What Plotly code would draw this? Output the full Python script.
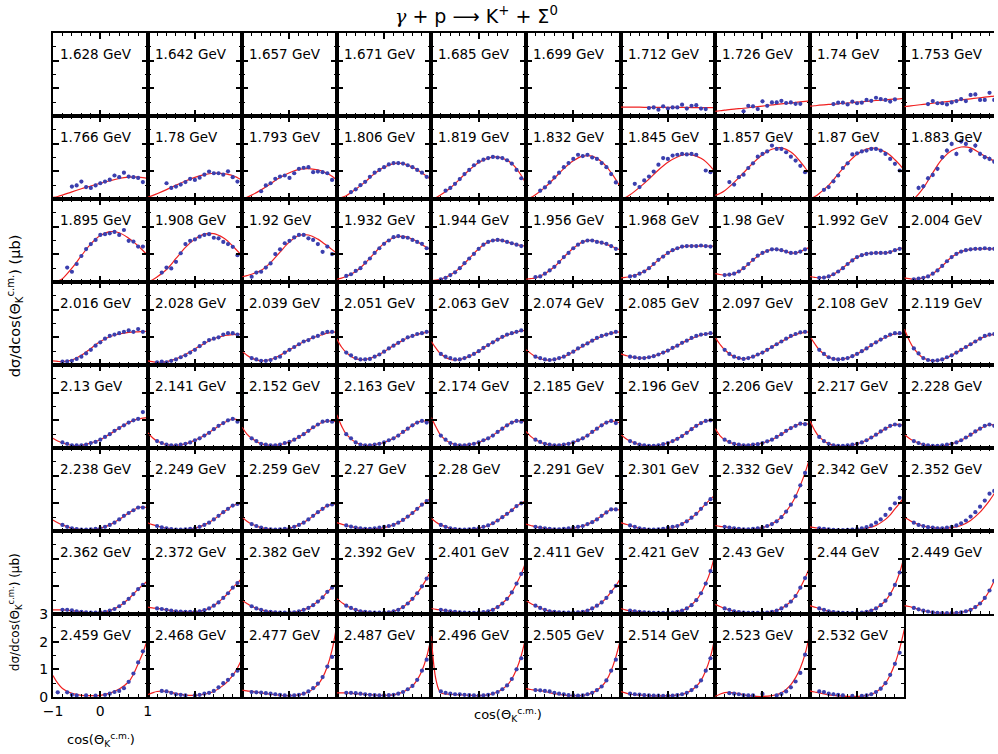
import plotly.graph_objects as go

N = None

# Angular bins of the measured points and the knots of the model curve
COS_POINTS = [-0.9, -0.8, -0.7, -0.6, -0.5, -0.4, -0.3, -0.2, -0.1, 0.0,
              0.1, 0.2, 0.3, 0.4, 0.5, 0.6, 0.7, 0.8, 0.9]
COS_CURVE = [-1.0, -0.9, -0.8, -0.6, -0.4, -0.2, 0.0, 0.2, 0.4, 0.6, 0.7, 0.8, 0.9, 1.0]

# ---- row 1 ----
ENERGY_ROW1 = ["1.628", "1.642", "1.657", "1.671", "1.685", "1.699", "1.712", "1.726", "1.74", "1.753"]
POINTS_ROW1 = [
    None, None, None, None, None, None,
    [N, N, N, N, N, 0.29, 0.31, 0.23, 0.35, 0.27, 0.31, 0.31, 0.41, 0.27, 0.37, 0.39, 0.27, 0.25, N],
    [N, N, N, N, N, 0.17, 0.37, 0.35, 0.25, 0.53, 0.37, 0.49, 0.49, 0.55, 0.47, 0.49, 0.44, 0.44, N],
    [N, N, N, N, 0.43, 0.48, 0.48, 0.42, 0.52, 0.46, 0.48, 0.58, 0.55, 0.66, 0.61, 0.58, 0.52, 0.60, N],
    [N, N, N, N, 0.43, 0.54, 0.46, 0.46, 0.42, 0.49, 0.54, 0.61, 0.54, 0.76, 0.78, 0.58, 0.58, 0.84, 0.58],
]
CURVE_ROW1 = [
    None, None, None, None, None, None,
    [0.32, 0.32, 0.32, 0.32, 0.31, 0.31, 0.31, 0.31, 0.31, 0.30, 0.30, 0.30, 0.30, 0.30],
    [0.17, 0.19, 0.21, 0.25, 0.28, 0.32, 0.36, 0.40, 0.44, 0.47, 0.49, 0.51, 0.53, 0.55],
    [0.36, 0.37, 0.39, 0.42, 0.44, 0.47, 0.50, 0.53, 0.56, 0.58, 0.60, 0.61, 0.62, 0.64],
    [0.34, 0.36, 0.38, 0.42, 0.46, 0.50, 0.54, 0.58, 0.62, 0.66, 0.68, 0.70, 0.72, 0.73],
]
ERR_ROW1 = [0, 0, 0, 0, 0, 0, 0.05, 0.06, 0.05, 0.06]

# ---- row 2 ----
ENERGY_ROW2 = ["1.766", "1.78", "1.793", "1.806", "1.819", "1.832", "1.845", "1.857", "1.87", "1.883"]
POINTS_ROW2 = [
    [N, N, N, 0.45, 0.49, 0.63, 0.43, 0.40, 0.49, 0.57, 0.63, 0.70, 0.85, 0.79, 0.95, 0.81, 0.79, 0.76, 0.61],
    [N, N, N, 0.57, 0.40, 0.45, 0.52, 0.61, 0.73, 0.69, 0.77, 0.88, 0.99, 0.93, 0.93, 0.88, 1.00, 0.79, 0.63],
    [N, N, N, 0.28, 0.49, 0.57, 0.73, 0.81, 0.85, 0.76, 0.93, 1.09, 1.13, 1.15, 0.97, 0.99, 0.97, 0.93, 0.69],
    [N, N, 0.25, 0.35, 0.50, 0.62, 0.80, 0.95, 1.05, 1.15, 1.25, 1.30, 1.30, 1.28, 1.22, 1.15, 1.05, 0.95, 0.80],
    [N, N, 0.30, 0.40, 0.55, 0.72, 0.90, 1.05, 1.22, 1.35, 1.42, 1.48, 1.52, 1.50, 1.48, 1.40, 1.28, 1.05, 0.75],
    [N, N, 0.30, 0.42, 0.60, 0.78, 0.95, 1.15, 1.30, 1.45, 1.60, 1.55, 1.60, 1.50, 1.45, 1.30, 1.15, 0.90, 0.60],
    [N, N, 0.55, 0.43, 0.67, 0.81, 0.99, 1.24, 1.48, 1.45, 1.57, 1.60, 1.63, 1.61, 1.63, 1.60, N, 1.03, 0.97],
    [N, N, 0.61, 0.52, 0.79, 0.88, 1.12, 1.29, 1.53, 1.63, 1.72, 1.93, 1.81, 1.81, 1.69, 1.53, 1.39, 1.20, 0.97],
    [N, N, 0.33, 0.43, 0.64, 0.85, 1.12, 1.29, 1.61, 1.65, 1.72, 1.75, 1.81, 1.81, 1.75, 1.63, 1.45, 1.27, 1.03],
    [N, N, 0.40, 0.46, 0.75, 0.87, 1.09, 1.51, 1.75, 1.99, 1.63, 2.08, 1.99, 1.75, 1.93, 1.63, 1.51, 1.45, 1.35],
]
CURVE_ROW2 = [
    [0.06, 0.09, 0.14, 0.26, 0.37, 0.47, 0.57, 0.66, 0.74, 0.79, 0.80, 0.79, 0.77, 0.74],
    [0.06, 0.12, 0.19, 0.34, 0.50, 0.65, 0.78, 0.88, 0.93, 0.92, 0.89, 0.85, 0.77, 0.68],
    [0.00, 0.06, 0.14, 0.33, 0.55, 0.78, 0.95, 1.07, 1.10, 1.05, 1.00, 0.92, 0.82, 0.68],
    [0.00, 0.05, 0.12, 0.35, 0.62, 0.92, 1.15, 1.28, 1.28, 1.15, 1.06, 0.95, 0.82, 0.68],
    [0.00, 0.05, 0.15, 0.40, 0.72, 1.05, 1.32, 1.48, 1.52, 1.40, 1.28, 1.10, 0.85, 0.55],
    [0.00, 0.05, 0.15, 0.42, 0.75, 1.10, 1.38, 1.55, 1.55, 1.35, 1.18, 0.95, 0.70, 0.40],
    [0.00, 0.05, 0.15, 0.42, 0.72, 1.05, 1.33, 1.52, 1.62, 1.55, 1.47, 1.35, 1.18, 0.97],
    [0.13, 0.20, 0.30, 0.60, 0.95, 1.30, 1.60, 1.80, 1.85, 1.70, 1.55, 1.35, 1.13, 0.90],
    [0.00, 0.08, 0.20, 0.50, 0.90, 1.30, 1.62, 1.80, 1.83, 1.70, 1.58, 1.42, 1.24, 1.03],
    [0.00, 0.00, 0.02, 0.40, 0.95, 1.45, 1.75, 1.88, 1.85, 1.65, 1.55, 1.45, 1.38, 1.33],
]
ERR_ROW2 = [0.06, 0.05, 0.05, 0.05, 0.05, 0.06, 0.05, 0.05, 0.05, 0.08]

# ---- row 3 ----
ENERGY_ROW3 = ["1.895", "1.908", "1.92", "1.932", "1.944", "1.956", "1.968", "1.98", "1.992", "2.004"]
POINTS_ROW3 = [
    [N, N, 0.52, 0.37, 0.65, 0.94, 1.19, 1.37, 1.52, 1.70, 1.73, 1.76, 1.81, 1.70, 1.88, 1.49, 1.46, 1.28, 1.28],
    [N, N, 0.34, 0.52, 0.49, 0.73, 1.04, 1.37, 1.49, 1.54, 1.64, 1.70, 1.73, 1.60, 1.58, 1.45, 1.37, 1.27, 0.97],
    [N, 0.19, 0.34, 0.37, 0.52, 0.67, 1.01, 1.18, 1.40, 1.49, 1.61, 1.70, 1.70, 1.58, 1.52, 1.37, 1.09, 1.28, 1.01],
    [N, 0.22, 0.28, 0.40, 0.50, 0.70, 0.85, 1.05, 1.22, 1.38, 1.50, 1.62, 1.66, 1.62, 1.60, 1.52, 1.45, 1.38, 1.22],
    [N, 0.10, 0.15, 0.25, 0.35, 0.50, 0.68, 0.85, 1.02, 1.20, 1.35, 1.45, 1.50, 1.52, 1.50, 1.45, 1.40, 1.35, 1.30],
    [N, 0.18, 0.20, 0.30, 0.42, 0.55, 0.72, 0.90, 1.05, 1.22, 1.35, 1.45, 1.50, 1.50, 1.45, 1.42, 1.38, 1.30, 1.20],
    [N, 0.20, 0.22, 0.30, 0.38, 0.50, 0.65, 0.80, 0.92, 1.05, 1.15, 1.22, 1.28, 1.30, 1.30, 1.30, 1.32, 1.30, 1.28],
    [N, 0.25, 0.27, 0.30, 0.38, 0.50, 0.65, 0.80, 0.95, 1.05, 1.12, 1.18, 1.18, 1.15, 1.10, 1.05, 1.05, 1.10, 1.18],
    [N, 0.15, 0.16, 0.20, 0.28, 0.38, 0.50, 0.65, 0.78, 0.90, 0.97, 1.02, 1.04, 1.05, 1.05, 1.05, 1.08, 1.15, 1.20],
    [N, 0.10, 0.12, 0.15, 0.20, 0.30, 0.42, 0.58, 0.75, 0.90, 1.02, 1.10, 1.15, 1.18, 1.20, 1.20, 1.22, 1.20, 1.20],
]
CURVE_ROW3 = [
    [0.00, 0.03, 0.12, 0.50, 0.95, 1.38, 1.68, 1.82, 1.78, 1.58, 1.45, 1.30, 1.14, 0.97],
    [0.00, 0.07, 0.18, 0.45, 0.85, 1.25, 1.55, 1.73, 1.75, 1.60, 1.47, 1.30, 1.12, 0.94],
    [0.19, 0.23, 0.28, 0.42, 0.70, 1.08, 1.45, 1.68, 1.70, 1.55, 1.43, 1.30, 1.17, 1.04],
    [0.10, 0.14, 0.20, 0.38, 0.68, 1.05, 1.40, 1.60, 1.65, 1.55, 1.46, 1.35, 1.25, 1.15],
    [0.05, 0.07, 0.10, 0.25, 0.50, 0.85, 1.20, 1.45, 1.52, 1.45, 1.40, 1.35, 1.32, 1.30],
    [0.10, 0.12, 0.15, 0.30, 0.55, 0.90, 1.22, 1.45, 1.50, 1.42, 1.36, 1.30, 1.22, 1.15],
    [0.15, 0.17, 0.20, 0.30, 0.50, 0.80, 1.05, 1.22, 1.30, 1.30, 1.30, 1.30, 1.30, 1.30],
    [0.30, 0.27, 0.25, 0.30, 0.50, 0.80, 1.05, 1.18, 1.15, 1.05, 1.05, 1.10, 1.18, 1.25],
    [0.20, 0.17, 0.15, 0.20, 0.38, 0.65, 0.90, 1.02, 1.05, 1.05, 1.08, 1.15, 1.20, 1.25],
    [0.15, 0.12, 0.10, 0.15, 0.30, 0.58, 0.90, 1.10, 1.18, 1.20, 1.20, 1.20, 1.20, 1.20],
]
ERR_ROW3 = [0.05, 0.05, 0.05, 0.04, 0.04, 0.04, 0.04, 0.04, 0.04, 0.04]

# ---- row 4 ----
ENERGY_ROW4 = ["2.016", "2.028", "2.039", "2.051", "2.063", "2.074", "2.085", "2.097", "2.108", "2.119"]
POINTS_ROW4 = [
    [N, 0.12, 0.13, 0.15, 0.22, 0.30, 0.42, 0.55, 0.70, 0.82, 0.95, 1.05, 1.10, 1.15, 1.20, 1.25, 1.20, 1.30, 1.20],
    [N, 0.10, 0.12, 0.10, 0.15, 0.20, 0.28, 0.35, 0.45, 0.55, 0.68, 0.80, 0.90, 0.95, 1.00, 1.10, 1.15, 1.15, 1.10],
    [N, 0.25, 0.20, 0.15, 0.15, 0.18, 0.25, 0.30, 0.45, 0.55, 0.65, 0.75, 0.85, 0.90, 1.00, 1.05, 1.15, 1.20, 1.20],
    [N, 0.45, 0.35, 0.25, 0.20, 0.20, 0.22, 0.30, 0.38, 0.48, 0.60, 0.70, 0.80, 0.90, 1.00, 1.05, 1.12, 1.15, 1.20],
    [N, 0.40, 0.30, 0.25, 0.20, 0.20, 0.25, 0.32, 0.40, 0.50, 0.62, 0.72, 0.82, 0.92, 1.02, 1.10, 1.15, 1.20, 1.25],
    [N, 0.30, 0.25, 0.20, 0.18, 0.20, 0.25, 0.30, 0.40, 0.48, 0.60, 0.70, 0.78, 0.88, 0.98, 1.05, 1.10, 1.15, 1.20],
    [N, 0.30, 0.28, 0.25, 0.25, 0.28, 0.32, 0.38, 0.45, 0.52, 0.62, 0.70, 0.80, 0.88, 0.98, 1.05, 1.10, 1.12, 1.15],
    [N, 0.55, 0.40, 0.30, 0.25, 0.22, 0.25, 0.30, 0.38, 0.45, 0.55, 0.65, 0.75, 0.85, 0.95, 1.05, 1.12, 1.18, 1.20],
    [N, 0.55, 0.40, 0.28, 0.22, 0.20, 0.22, 0.25, 0.32, 0.40, 0.50, 0.60, 0.72, 0.82, 0.92, 1.02, 1.10, 1.15, 1.15],
    [N, 0.60, 0.42, 0.25, 0.18, 0.15, 0.17, 0.20, 0.28, 0.35, 0.45, 0.55, 0.65, 0.75, 0.85, 0.95, 1.05, 1.10, 1.12],
]
CURVE_ROW4 = [
    [0.15, 0.13, 0.12, 0.18, 0.35, 0.60, 0.85, 1.02, 1.12, 1.18, 1.19, 1.20, 1.21, 1.22],
    [0.15, 0.12, 0.10, 0.12, 0.22, 0.38, 0.58, 0.78, 0.95, 1.05, 1.08, 1.10, 1.11, 1.12],
    [0.50, 0.35, 0.25, 0.15, 0.20, 0.35, 0.55, 0.75, 0.92, 1.05, 1.10, 1.15, 1.18, 1.20],
    [0.95, 0.65, 0.45, 0.22, 0.20, 0.30, 0.48, 0.70, 0.90, 1.05, 1.10, 1.15, 1.18, 1.20],
    [0.85, 0.60, 0.40, 0.20, 0.20, 0.32, 0.50, 0.72, 0.92, 1.08, 1.14, 1.20, 1.23, 1.25],
    [0.55, 0.42, 0.30, 0.18, 0.20, 0.30, 0.48, 0.68, 0.88, 1.03, 1.10, 1.15, 1.18, 1.20],
    [0.40, 0.35, 0.30, 0.25, 0.28, 0.38, 0.52, 0.70, 0.88, 1.02, 1.08, 1.12, 1.14, 1.15],
    [1.00, 0.75, 0.55, 0.30, 0.22, 0.30, 0.45, 0.65, 0.85, 1.02, 1.10, 1.15, 1.18, 1.20],
    [1.05, 0.78, 0.55, 0.28, 0.20, 0.25, 0.40, 0.60, 0.82, 1.00, 1.07, 1.12, 1.14, 1.15],
    [1.30, 0.90, 0.60, 0.25, 0.15, 0.20, 0.35, 0.55, 0.75, 0.95, 1.02, 1.08, 1.10, 1.12],
]
ERR_ROW4 = [0.04, 0.04, 0.04, 0.04, 0.04, 0.04, 0.04, 0.04, 0.04, 0.04]

# ---- row 5 ----
ENERGY_ROW5 = ["2.13", "2.141", "2.152", "2.163", "2.174", "2.185", "2.196", "2.206", "2.217", "2.228"]
POINTS_ROW5 = [
    [N, 0.20, 0.15, 0.10, 0.10, 0.10, 0.12, 0.18, 0.22, 0.30, 0.40, 0.50, 0.62, 0.72, 0.82, 0.92, 1.00, 1.05, 1.30],
    [N, 0.25, 0.18, 0.12, 0.10, 0.10, 0.12, 0.15, 0.20, 0.28, 0.35, 0.45, 0.55, 0.68, 0.80, 0.90, 1.00, 1.05, 0.95],
    [N, 0.35, 0.25, 0.15, 0.12, 0.10, 0.10, 0.12, 0.18, 0.22, 0.30, 0.40, 0.50, 0.62, 0.75, 0.85, 0.95, 0.98, 0.95],
    [N, 0.50, 0.35, 0.20, 0.12, 0.10, 0.10, 0.12, 0.15, 0.20, 0.28, 0.35, 0.45, 0.58, 0.70, 0.82, 0.92, 0.98, 0.92],
    [N, 0.45, 0.30, 0.18, 0.12, 0.10, 0.10, 0.12, 0.15, 0.20, 0.28, 0.35, 0.45, 0.58, 0.70, 0.82, 0.92, 0.98, 0.95],
    [N, 0.30, 0.22, 0.15, 0.12, 0.10, 0.10, 0.12, 0.15, 0.20, 0.28, 0.35, 0.45, 0.58, 0.70, 0.82, 0.92, 0.98, 0.90],
    [N, 0.25, 0.18, 0.12, 0.10, 0.08, 0.08, 0.10, 0.14, 0.18, 0.25, 0.33, 0.43, 0.55, 0.68, 0.80, 0.90, 0.98, 1.00],
    [N, 0.30, 0.22, 0.15, 0.12, 0.10, 0.10, 0.12, 0.14, 0.18, 0.24, 0.30, 0.40, 0.50, 0.62, 0.72, 0.80, 0.88, 0.86],
    [N, 0.40, 0.25, 0.15, 0.10, 0.08, 0.08, 0.10, 0.12, 0.15, 0.20, 0.28, 0.38, 0.48, 0.60, 0.70, 0.80, 0.85, 0.82],
    [N, 0.25, 0.18, 0.12, 0.10, 0.08, 0.08, 0.10, 0.12, 0.15, 0.20, 0.28, 0.38, 0.48, 0.60, 0.70, 0.80, 0.85, 0.80],
]
CURVE_ROW5 = [
    [0.35, 0.25, 0.18, 0.10, 0.10, 0.18, 0.30, 0.50, 0.72, 0.92, 1.00, 1.05, 1.08, 1.10],
    [0.55, 0.38, 0.25, 0.12, 0.10, 0.15, 0.28, 0.45, 0.68, 0.90, 0.98, 1.05, 1.02, 0.95],
    [0.75, 0.50, 0.35, 0.15, 0.10, 0.12, 0.22, 0.40, 0.62, 0.85, 0.93, 0.98, 0.97, 0.95],
    [1.20, 0.80, 0.50, 0.20, 0.10, 0.12, 0.20, 0.35, 0.58, 0.82, 0.92, 0.98, 0.96, 0.92],
    [1.10, 0.75, 0.45, 0.18, 0.10, 0.12, 0.20, 0.35, 0.58, 0.82, 0.92, 0.98, 0.97, 0.95],
    [0.60, 0.42, 0.30, 0.15, 0.10, 0.12, 0.20, 0.35, 0.58, 0.82, 0.92, 0.98, 0.95, 0.90],
    [0.50, 0.35, 0.25, 0.12, 0.08, 0.10, 0.18, 0.33, 0.55, 0.80, 0.90, 0.98, 1.00, 0.98],
    [0.70, 0.45, 0.30, 0.15, 0.10, 0.12, 0.18, 0.30, 0.50, 0.72, 0.80, 0.88, 0.88, 0.85],
    [1.00, 0.65, 0.40, 0.15, 0.08, 0.08, 0.15, 0.28, 0.48, 0.70, 0.78, 0.85, 0.85, 0.82],
    [0.50, 0.35, 0.25, 0.12, 0.08, 0.08, 0.15, 0.28, 0.48, 0.70, 0.78, 0.85, 0.83, 0.80],
]
ERR_ROW5 = [0.04, 0.04, 0.04, 0.04, 0.04, 0.04, 0.04, 0.04, 0.04, 0.04]

# ---- row 6 ----
ENERGY_ROW6 = ["2.238", "2.249", "2.259", "2.27", "2.28", "2.291", "2.301", "2.332", "2.342", "2.352"]
POINTS_ROW6 = [
    [N, 0.22, 0.15, 0.10, 0.07, 0.05, 0.05, 0.06, 0.08, 0.10, 0.15, 0.22, 0.30, 0.42, 0.55, 0.65, 0.75, 0.85, 0.85],
    [N, 0.18, 0.13, 0.10, 0.07, 0.05, 0.05, 0.06, 0.08, 0.10, 0.15, 0.22, 0.30, 0.42, 0.55, 0.68, 0.80, 0.92, 0.98],
    [N, 0.25, 0.18, 0.12, 0.08, 0.06, 0.05, 0.06, 0.08, 0.10, 0.15, 0.22, 0.30, 0.42, 0.55, 0.68, 0.80, 0.92, 0.96],
    [N, 0.20, 0.16, 0.12, 0.10, 0.08, 0.08, 0.10, 0.12, 0.15, 0.18, 0.22, 0.30, 0.40, 0.52, 0.65, 0.80, 0.95, 1.08],
    [N, 0.22, 0.15, 0.10, 0.07, 0.05, 0.05, 0.06, 0.08, 0.10, 0.15, 0.20, 0.28, 0.38, 0.50, 0.62, 0.75, 0.90, 1.00],
    [N, 0.15, 0.12, 0.10, 0.08, 0.06, 0.06, 0.08, 0.10, 0.12, 0.15, 0.18, 0.25, 0.32, 0.42, 0.55, 0.67, 0.78, 0.78],
    [N, 0.20, 0.15, 0.10, 0.07, 0.05, 0.05, 0.06, 0.08, 0.12, 0.15, 0.18, 0.25, 0.35, 0.48, 0.62, 0.80, 0.98, 1.15],
    [N, 0.15, 0.12, 0.10, 0.08, 0.06, 0.06, 0.08, 0.10, 0.12, 0.18, 0.25, 0.35, 0.50, 0.70, 0.95, 1.25, 1.65, 2.10],
    [N, 0.10, 0.08, 0.06, 0.04, 0.03, 0.03, 0.04, 0.05, 0.07, 0.10, 0.14, 0.20, 0.30, 0.42, 0.58, 0.80, 1.00, 1.20],
    [N, 0.30, 0.22, 0.18, 0.14, 0.12, 0.10, 0.10, 0.12, 0.15, 0.20, 0.28, 0.38, 0.52, 0.68, 0.88, 1.10, 1.35, 1.45],
]
CURVE_ROW6 = [
    [0.40, 0.30, 0.22, 0.10, 0.05, 0.05, 0.10, 0.22, 0.42, 0.65, 0.75, 0.85, 0.86, 0.85],
    [0.30, 0.23, 0.18, 0.10, 0.05, 0.05, 0.10, 0.22, 0.42, 0.68, 0.80, 0.92, 0.97, 1.00],
    [0.50, 0.35, 0.25, 0.12, 0.06, 0.05, 0.10, 0.22, 0.42, 0.68, 0.80, 0.92, 0.96, 0.98],
    [0.30, 0.25, 0.20, 0.12, 0.08, 0.08, 0.12, 0.22, 0.40, 0.65, 0.80, 0.95, 1.08, 1.20],
    [0.45, 0.32, 0.22, 0.10, 0.05, 0.05, 0.10, 0.20, 0.38, 0.62, 0.75, 0.90, 1.00, 1.10],
    [0.25, 0.20, 0.15, 0.10, 0.06, 0.06, 0.10, 0.18, 0.32, 0.55, 0.67, 0.78, 0.78, 0.75],
    [0.30, 0.25, 0.20, 0.10, 0.05, 0.05, 0.08, 0.18, 0.35, 0.62, 0.80, 0.98, 1.15, 1.30],
    [0.20, 0.17, 0.15, 0.10, 0.06, 0.06, 0.12, 0.25, 0.50, 0.95, 1.25, 1.65, 2.10, 2.65],
    [0.15, 0.12, 0.10, 0.06, 0.03, 0.03, 0.05, 0.10, 0.20, 0.42, 0.58, 0.80, 1.00, 1.25],
    [0.50, 0.40, 0.30, 0.18, 0.12, 0.10, 0.12, 0.20, 0.38, 0.68, 0.88, 1.10, 1.35, 1.60],
]
ERR_ROW6 = [0.04, 0.04, 0.04, 0.04, 0.04, 0.04, 0.04, 0.05, 0.04, 0.05]

# ---- row 7 ----
ENERGY_ROW7 = ["2.362", "2.372", "2.382", "2.392", "2.401", "2.411", "2.421", "2.43", "2.44", "2.449"]
POINTS_ROW7 = [
    [N, 0.15, 0.15, 0.13, 0.10, 0.08, 0.06, 0.05, 0.05, 0.06, 0.08, 0.12, 0.18, 0.28, 0.40, 0.55, 0.72, 0.90, 1.05],
    [N, 0.20, 0.18, 0.15, 0.12, 0.10, 0.09, 0.08, 0.08, 0.08, 0.10, 0.14, 0.20, 0.30, 0.42, 0.58, 0.75, 0.95, 1.12],
    [N, 0.28, 0.20, 0.15, 0.10, 0.08, 0.06, 0.05, 0.05, 0.05, 0.06, 0.10, 0.15, 0.22, 0.32, 0.45, 0.60, 0.80, 0.95],
    [N, 0.30, 0.22, 0.15, 0.10, 0.08, 0.06, 0.05, 0.05, 0.05, 0.06, 0.10, 0.15, 0.25, 0.38, 0.55, 0.75, 1.00, 1.28],
    [N, 0.15, 0.12, 0.10, 0.08, 0.06, 0.05, 0.04, 0.04, 0.05, 0.07, 0.10, 0.15, 0.25, 0.38, 0.55, 0.78, 1.10, 1.45],
    [N, 0.30, 0.22, 0.15, 0.10, 0.08, 0.06, 0.05, 0.05, 0.05, 0.06, 0.08, 0.12, 0.20, 0.30, 0.42, 0.58, 0.80, 1.02],
    [N, 0.12, 0.10, 0.08, 0.06, 0.05, 0.04, 0.04, 0.04, 0.04, 0.05, 0.08, 0.12, 0.20, 0.32, 0.50, 0.75, 1.10, 1.55],
    [N, 0.20, 0.15, 0.10, 0.07, 0.05, 0.04, 0.04, 0.04, 0.04, 0.05, 0.08, 0.12, 0.20, 0.30, 0.45, 0.65, 0.95, 1.30],
    [N, 0.20, 0.15, 0.10, 0.07, 0.05, 0.04, 0.03, 0.03, 0.03, 0.05, 0.08, 0.12, 0.20, 0.32, 0.48, 0.72, 1.05, 1.50],
    [N, 0.22, 0.17, 0.12, 0.09, 0.06, 0.04, 0.03, 0.03, 0.03, 0.04, 0.06, 0.10, 0.15, 0.25, 0.38, 0.58, 0.85, 1.20],
]
CURVE_ROW7 = [
    [0.15, 0.15, 0.15, 0.12, 0.08, 0.05, 0.06, 0.12, 0.28, 0.55, 0.72, 0.90, 1.05, 1.20],
    [0.25, 0.22, 0.20, 0.15, 0.10, 0.08, 0.08, 0.14, 0.30, 0.58, 0.75, 0.95, 1.12, 1.30],
    [0.50, 0.38, 0.28, 0.15, 0.08, 0.05, 0.05, 0.10, 0.22, 0.45, 0.60, 0.80, 0.95, 1.10],
    [0.55, 0.42, 0.30, 0.15, 0.08, 0.05, 0.05, 0.10, 0.25, 0.55, 0.75, 1.00, 1.28, 1.60],
    [0.20, 0.17, 0.15, 0.10, 0.06, 0.04, 0.05, 0.10, 0.25, 0.55, 0.78, 1.10, 1.45, 1.90],
    [0.50, 0.38, 0.30, 0.15, 0.08, 0.05, 0.05, 0.08, 0.20, 0.42, 0.58, 0.80, 1.02, 1.30],
    [0.20, 0.15, 0.12, 0.08, 0.05, 0.03, 0.04, 0.08, 0.20, 0.50, 0.75, 1.10, 1.55, 2.20],
    [0.35, 0.27, 0.20, 0.10, 0.05, 0.03, 0.04, 0.08, 0.20, 0.45, 0.65, 0.95, 1.30, 1.70],
    [0.30, 0.25, 0.20, 0.10, 0.05, 0.03, 0.03, 0.08, 0.20, 0.48, 0.72, 1.05, 1.50, 2.10],
    [0.30, 0.27, 0.22, 0.12, 0.06, 0.03, 0.03, 0.06, 0.15, 0.38, 0.58, 0.85, 1.20, 1.60],
]
ERR_ROW7 = [0.04, 0.04, 0.04, 0.05, 0.05, 0.05, 0.05, 0.05, 0.05, 0.05]

# ---- row 8 ----
ENERGY_ROW8 = ["2.459", "2.468", "2.477", "2.487", "2.496", "2.505", "2.514", "2.523", "2.532"]
POINTS_ROW8 = [
    [0.17, N, 0.17, 0.08, 0.06, N, 0.06, N, 0.05, N, 0.08, 0.12, 0.18, 0.22, 0.32, 0.55, 0.85, 1.25, 1.65],
    [N, N, 0.22, 0.20, 0.15, 0.10, 0.08, 0.06, N, 0.06, 0.08, 0.12, 0.15, 0.22, 0.35, 0.50, 0.62, 0.80, 0.95],
    [N, 0.18, 0.17, 0.16, 0.14, 0.12, 0.10, 0.08, 0.06, 0.05, 0.06, 0.08, 0.12, 0.20, 0.32, 0.48, 0.72, 1.10, 1.45],
    [N, 0.15, 0.15, 0.14, 0.12, 0.10, 0.08, 0.07, 0.06, 0.06, 0.07, 0.08, 0.12, 0.18, 0.28, 0.40, 0.62, 0.95, 1.35],
    [N, 0.20, 0.15, 0.12, 0.10, 0.10, 0.08, 0.07, 0.06, 0.05, 0.06, 0.08, 0.12, 0.18, 0.28, 0.42, 0.65, 1.00, 1.40],
    [N, 0.25, 0.24, 0.22, 0.20, 0.15, 0.12, 0.10, 0.07, 0.06, 0.05, 0.06, 0.10, 0.15, 0.25, 0.38, 0.60, 0.95, 1.35],
    [N, 0.12, 0.10, 0.09, 0.07, 0.06, 0.05, 0.05, 0.04, 0.05, 0.05, 0.07, 0.10, 0.15, 0.25, 0.38, 0.60, 0.95, 1.40],
    [N, N, 0.14, 0.12, 0.10, 0.07, 0.06, 0.06, N, 0.11, N, N, 0.06, 0.11, 0.20, 0.35, 0.56, 0.87, 1.53],
    [N, 0.20, 0.18, 0.12, 0.10, 0.08, 0.06, N, 0.04, N, 0.04, 0.06, 0.10, 0.18, 0.30, 0.50, 0.80, 1.20, 1.60],
]
CURVE_ROW8 = [
    [0.78, 0.50, 0.31, 0.13, 0.06, 0.05, 0.06, 0.14, 0.29, 0.55, 0.82, 1.20, 1.60, 2.10],
    [0.08, 0.15, 0.20, 0.20, 0.12, 0.07, 0.06, 0.10, 0.20, 0.42, 0.58, 0.78, 1.05, 1.40],
    [0.25, 0.22, 0.20, 0.15, 0.10, 0.06, 0.05, 0.08, 0.18, 0.45, 0.70, 1.10, 1.70, 2.60],
    [0.15, 0.15, 0.15, 0.12, 0.10, 0.07, 0.06, 0.08, 0.18, 0.40, 0.62, 0.95, 1.45, 2.20],
    [2.20, 0.60, 0.15, 0.10, 0.08, 0.06, 0.05, 0.08, 0.18, 0.42, 0.65, 1.00, 1.50, 2.20],
    [0.30, 0.27, 0.25, 0.20, 0.12, 0.07, 0.05, 0.06, 0.15, 0.38, 0.60, 0.95, 1.45, 2.10],
    [0.20, 0.15, 0.10, 0.07, 0.05, 0.04, 0.05, 0.07, 0.15, 0.38, 0.60, 0.95, 1.45, 2.20],
    [0.02, 0.10, 0.16, 0.15, 0.08, 0.03, 0.02, 0.05, 0.15, 0.45, 0.70, 1.05, 1.55, 2.30],
    [0.22, 0.18, 0.15, 0.08, 0.04, 0.02, 0.02, 0.05, 0.17, 0.50, 0.80, 1.20, 1.75, 2.45],
]
ERR_ROW8 = [0.05, 0.05, 0.05, 0.05, 0.05, 0.05, 0.05, 0.05, 0.06]

ROWS = [
    (ENERGY_ROW1, POINTS_ROW1, CURVE_ROW1, ERR_ROW1),
    (ENERGY_ROW2, POINTS_ROW2, CURVE_ROW2, ERR_ROW2),
    (ENERGY_ROW3, POINTS_ROW3, CURVE_ROW3, ERR_ROW3),
    (ENERGY_ROW4, POINTS_ROW4, CURVE_ROW4, ERR_ROW4),
    (ENERGY_ROW5, POINTS_ROW5, CURVE_ROW5, ERR_ROW5),
    (ENERGY_ROW6, POINTS_ROW6, CURVE_ROW6, ERR_ROW6),
    (ENERGY_ROW7, POINTS_ROW7, CURVE_ROW7, ERR_ROW7),
    (ENERGY_ROW8, POINTS_ROW8, CURVE_ROW8, ERR_ROW8),
]

# ---- page geometry (pixels) ----
W, H = 998, 754
M_L, M_T, M_R, M_B = 53, 33, 0, 57
PLOT_W = W - M_L - M_R
PLOT_H = H - M_T - M_B
COL_W, ROW_H = 95, 83
N_ROWS = 8

FONT = "DejaVu Sans, Verdana, sans-serif"
BLUE = "#3b3fae"
RED = "#f02020"


def px_x(p):
    return (p - M_L) / PLOT_W


def px_y(p):
    return (M_T + PLOT_H - p) / PLOT_H


fig = go.Figure()
layout_axes = {}
annotations = []

k = 0
for r, (energies, points, curves, errs) in enumerate(ROWS):
    for c, energy in enumerate(energies):
        k += 1
        suffix = "" if k == 1 else str(k)
        xref, yref = "x" + suffix, "y" + suffix

        x0 = c * COL_W / PLOT_W
        x1 = min((c + 1) * COL_W / PLOT_W, 1.0)
        y1 = 1 - r * ROW_H / PLOT_H
        y0 = 1 - (r + 1) * ROW_H / PLOT_H
        x_hi = -1 + 2 * (x1 - x0) * PLOT_W / COL_W
        clipped = (c + 1) * COL_W > PLOT_W
        labelled = (r == N_ROWS - 1 and c == 0)

        layout_axes["xaxis" + suffix] = dict(
            domain=[x0, x1], anchor=yref, range=[-1, x_hi],
            showline=True, linecolor="black", linewidth=2, mirror="allticks",
            ticks="inside", tickmode="array", tickvals=[-1, 0, 1], ticklen=6,
            tickwidth=1.5, tickcolor="black",
            minor=dict(ticks="inside", tickmode="linear", tick0=-1, dtick=0.2,
                       ticklen=3, tickwidth=1, tickcolor="black", showgrid=False),
            showgrid=False, zeroline=False, showticklabels=labelled,
            tickfont=dict(family=FONT, size=14, color="black"),
        )
        layout_axes["yaxis" + suffix] = dict(
            domain=[y0, y1], anchor=xref, range=[0, 3],
            showline=True, linecolor="black", linewidth=2,
            mirror=False if clipped else "allticks",
            ticks="inside", tickmode="array", tickvals=[0, 1, 2, 3], ticklen=6,
            tickwidth=1.5, tickcolor="black",
            minor=dict(ticks="inside", tickmode="linear", tick0=0, dtick=0.5,
                       ticklen=3, tickwidth=1, tickcolor="black", showgrid=False),
            showgrid=False, zeroline=False, showticklabels=labelled,
            tickfont=dict(family=FONT, size=14, color="black"),
        )

        pts = points[c]
        crv = curves[c]
        if crv is not None:
            fig.add_trace(go.Scatter(
                x=COS_CURVE, y=crv, mode="lines", xaxis=xref, yaxis=yref,
                line=dict(color=RED, width=1.2, shape="spline", smoothing=1.0),
                hoverinfo="skip", showlegend=False,
            ))
        else:
            fig.add_trace(go.Scatter(x=[None], y=[None], mode="lines",
                                     xaxis=xref, yaxis=yref, showlegend=False))
        if pts is not None:
            fig.add_trace(go.Scatter(
                x=COS_POINTS, y=pts, mode="markers", xaxis=xref, yaxis=yref,
                marker=dict(color=BLUE, size=4.2),
                error_y=dict(type="data", array=[errs[c]] * len(pts),
                             thickness=1, width=0, color=BLUE),
                showlegend=False,
            ))

        annotations.append(dict(
            text=f"{energy} GeV", xref="paper", yref="paper",
            x=px_x(M_L + c * COL_W + 5), y=px_y(M_T + r * ROW_H + 21),
            xanchor="left", yanchor="middle", showarrow=False,
            font=dict(family=FONT, size=13.5, color="black"),
        ))

# titles
annotations.append(dict(
    text="<span style=\"font-family:'DejaVu Serif'\"><i>γ</i></span> + p ⟶ "
         "K<sup>+</sup> + Σ<sup>0</sup>",
    xref="paper", yref="paper",
    x=px_x(478), y=px_y(15), xanchor="center", yanchor="middle", showarrow=False,
    font=dict(family=FONT, size=19, color="black"),
))
y_title = "dσ/dcos(Θ<sub>K</sub><sup>c.m.</sup>) (μb)"
x_title = "cos(Θ<sub>K</sub><sup>c.m.</sup>)"
annotations.append(dict(
    text=y_title, xref="paper", yref="paper", x=px_x(15), y=px_y(306),
    xanchor="center", yanchor="middle", textangle=-90, showarrow=False,
    font=dict(family=FONT, size=14.5, color="black"),
))
annotations.append(dict(
    text=y_title, xref="paper", yref="paper", x=px_x(15), y=px_y(612),
    xanchor="center", yanchor="middle", textangle=-90, showarrow=False,
    font=dict(family=FONT, size=12, color="black"),
))
annotations.append(dict(
    text=x_title, xref="paper", yref="paper", x=px_x(510), y=px_y(715),
    xanchor="center", yanchor="middle", showarrow=False,
    font=dict(family=FONT, size=13, color="black"),
))
annotations.append(dict(
    text=x_title, xref="paper", yref="paper", x=px_x(101), y=px_y(740),
    xanchor="center", yanchor="middle", showarrow=False,
    font=dict(family=FONT, size=13, color="black"),
))

fig.update_layout(
    width=W, height=H,
    margin=dict(l=M_L, r=M_R, t=M_T, b=M_B),
    paper_bgcolor="white", plot_bgcolor="white",
    showlegend=False, annotations=annotations,
    **layout_axes,
)

fig.write_html("out.html")
